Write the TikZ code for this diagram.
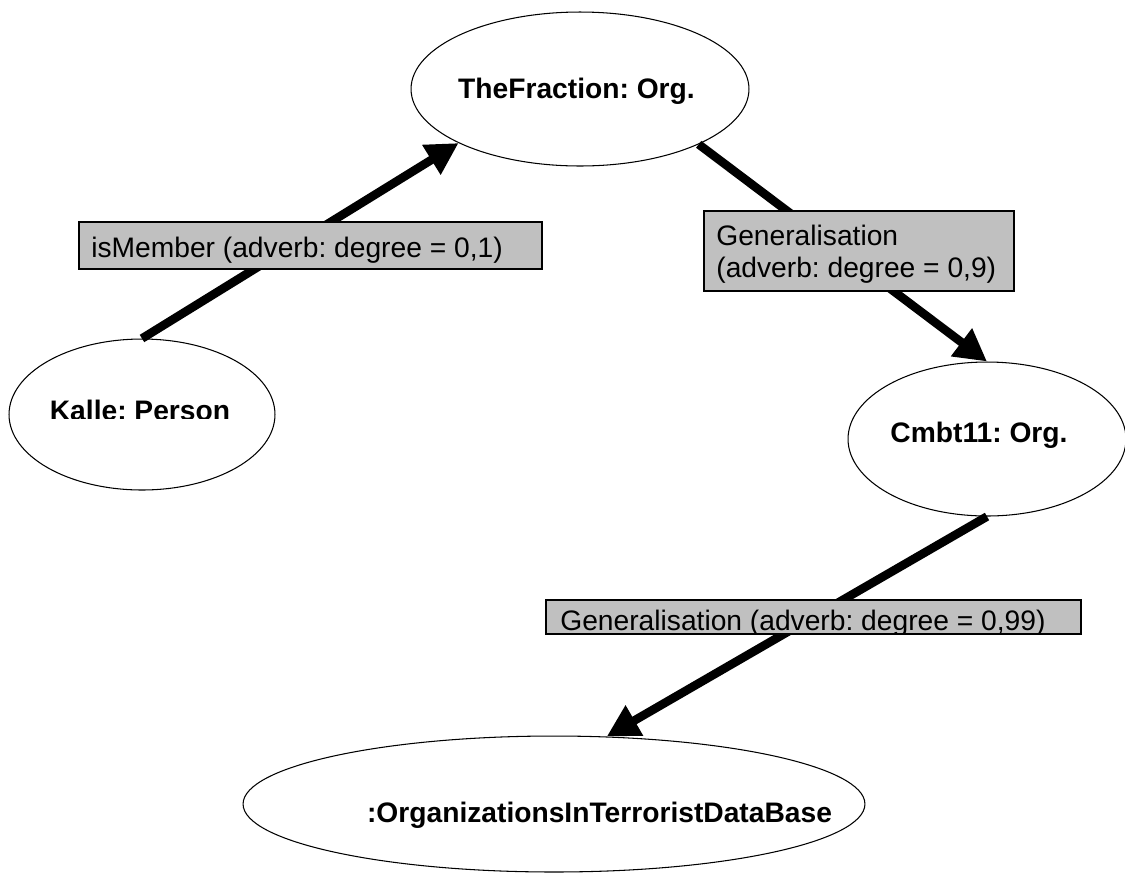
\documentclass[tikz,border=0pt]{standalone}
\usepackage{fontspec}
\setmainfont{Liberation Sans}
\usetikzlibrary{arrows.meta,shapes.geometric}

\definecolor{boxgray}{RGB}{192,192,192}

\tikzset{
  entity/.style={ellipse, draw, line width=0.6pt, inner sep=0pt},
  entitytext/.style={anchor=base, inner sep=0pt,
    font=\fontsize{16.05pt}{18.14pt}\selectfont\bfseries},
  relbox/.style={rectangle, draw, fill=boxgray, line width=1pt, inner sep=0pt},
  reltext/.style={anchor=base west, inner sep=0pt, align=left,
    font=\fontsize{16.05pt}{18.14pt}\selectfont},
  relarrow/.style={line width=4.9pt, line cap=butt,
    -{Triangle[length=0.64cm,width=0.66cm]}}
}

\begin{document}
\frenchspacing
\begin{tikzpicture}[x=0.02cm, y=-0.02cm]
  \useasboundingbox[fill=white] (0,0) rectangle (1125,873);

  % objects
  \node[entity, minimum width=6.76cm, minimum height=3.08cm] (frac)  at (580,89) {};
  \node[entity, minimum width=5.32cm, minimum height=3.02cm] (kalle) at (142,414.5) {};
  \node[entity, minimum width=5.56cm, minimum height=3.08cm] (cmbt)  at (987,439) {};
  \node[entity, minimum width=12.44cm, minimum height=2.72cm] (orgdb) at (554,804) {};

  \node[entitytext] (fractext) at (576.5,98) {TheFraction: Org.};
  \begin{scope}
    \clip (0,300) rectangle (300,418.5);
    \node[entitytext] (kalletext) at (140,420) {Kalle: Person};
  \end{scope}
  \node[entitytext] (cmbttext)  at (979,442) {Cmbt11: Org.};
  \node[entitytext] (orgdbtext) at (599.5,822) {:OrganizationsInTerroristDataBase};

  % relations
  \draw[relarrow] (kalle.north) -- (frac.204.4);
  \draw[relarrow] (frac.335.5) -- (cmbt.north);
  \draw[relarrow] (cmbt.south) -- (orgdb.52);

  % relation labels
  \node[relbox, minimum width=9.26cm, minimum height=0.94cm] (memberbox) at (310.5,245.5) {};
  \node[reltext] (membertext) at (91,257) {isMember (adverb: degree = 0,1)};

  \node[relbox, minimum width=6.2cm, minimum height=1.6cm] (genbox) at (859,251) {};
  \node[reltext] (gentext) at (716,277) {Generalisation\\(adverb: degree = 0,9)};

  \node[relbox, minimum width=10.7cm, minimum height=0.68cm] (gen2box) at (813.5,617) {};
  \begin{scope}
    \clip (gen2box.south west) rectangle (gen2box.north east);
    \node[reltext] (gen2text) at (560,630) {Generalisation (adverb: degree = 0,99)};
  \end{scope}
\end{tikzpicture}
\end{document}
